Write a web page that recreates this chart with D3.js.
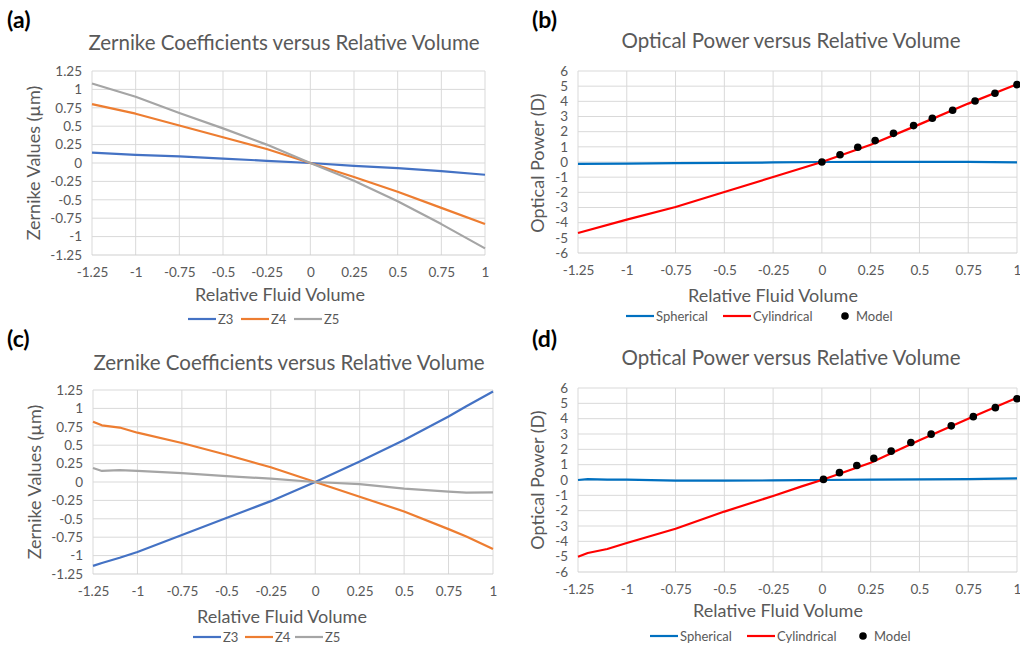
<!DOCTYPE html>
<html>
<head>
<meta charset="utf-8">
<script src="https://cdn.jsdelivr.net/npm/d3@7"></script>
<style>
  body { margin: 0; background: #fff; }
  text { font-family: Lato, "Open Sans", sans-serif; fill: #595959; }
</style>
</head>
<body>
<div id="chart"></div>
<script>
// ---- data ----
const xTicks = [-1.25, -1, -0.75, -0.5, -0.25, 0, 0.25, 0.5, 0.75, 1];
const zernikeTicks = [-1.25, -1, -0.75, -0.5, -0.25, 0, 0.25, 0.5, 0.75, 1, 1.25];
const powerTicks = [-6, -5, -4, -3, -2, -1, 0, 1, 2, 3, 4, 5, 6];

// (a)
const volumeA = [-1.25, -1, -0.75, -0.5, -0.25, 0, 0.25, 0.5, 0.75, 1];
const z3A = [0.14, 0.11, 0.09, 0.06, 0.03, 0, -0.04, -0.07, -0.11, -0.16];
const z4A = [0.80, 0.67, 0.51, 0.35, 0.19, 0, -0.19, -0.39, -0.61, -0.83];
const z5A = [1.08, 0.90, 0.68, 0.47, 0.25, 0, -0.24, -0.52, -0.83, -1.16];

// (b)
const volumeB = [-1.25, -1, -0.75, -0.5, -0.25, 0, 0.25, 0.5, 0.75, 1];
const sphericalB = [-0.13, -0.11, -0.08, -0.06, -0.03, 0, 0.01, 0.01, 0.01, -0.02];
const cylindricalB = [-4.68, -3.80, -2.97, -1.98, -0.99, 0, 1.14, 2.48, 3.85, 5.12];
const modelVolB = [0, 0.093, 0.184, 0.273, 0.367, 0.47, 0.566, 0.67, 0.785, 0.887, 1];
const modelPowerB = [0, 0.48, 0.97, 1.41, 1.89, 2.40, 2.88, 3.41, 4.02, 4.53, 5.10];

// (c)
const volumeC = [-1.25, -1.2, -1.1, -1, -0.75, -0.5, -0.25, 0, 0.25, 0.5, 0.75, 0.85, 1];
const z3C = [-1.14, -1.10, -1.03, -0.95, -0.72, -0.49, -0.26, 0, 0.28, 0.57, 0.89, 1.03, 1.23];
const z4C = [0.82, 0.77, 0.74, 0.67, 0.53, 0.37, 0.20, 0, -0.20, -0.40, -0.64, -0.74, -0.91];
const z5C = [0.19, 0.15, 0.16, 0.15, 0.12, 0.08, 0.045, 0, -0.03, -0.09, -0.13, -0.145, -0.14];

// (d)
const volumeD = [-1.25, -1.2, -1.1, -1, -0.75, -0.5, -0.25, -0.1, 0, 0.25, 0.5, 0.75, 1];
const sphericalD = [0, 0.06, 0.03, 0.02, -0.04, -0.04, -0.03, -0.01, 0, 0.02, 0.04, 0.06, 0.11];
const cylindricalD = [-5.0, -4.76, -4.5, -4.11, -3.18, -2.06, -1.04, -0.4, 0, 1.13, 2.6, 4.0, 5.37];
const modelVolD = [0.008, 0.09, 0.179, 0.266, 0.355, 0.456, 0.56, 0.663, 0.776, 0.889, 1];
const modelPowerD = [0.04, 0.48, 0.95, 1.41, 1.88, 2.45, 2.99, 3.53, 4.13, 4.72, 5.30];

const fmt = (v) => String(v);
const zip = (xs, ys) => xs.map((x, i) => ({x, y: ys[i]}));

const svg = d3.select("#chart").append("svg")
    .attr("width", 1020).attr("height", 646);

function drawPanel(p)
{
    const {box, yTicks, series, model, labels} = p;
    const g = svg.append("g");

    const x = d3.scaleLinear().domain([-1.25, 1]).range([box.x0, box.x1]);
    const y = d3.scaleLinear().domain(d3.extent(yTicks)).range([box.y1, box.y0]);

    // grid
    g.selectAll("line.v").data(xTicks).enter().append("line")
        .attr("x1", d => x(d)).attr("x2", d => x(d))
        .attr("y1", box.y0).attr("y2", box.y1)
        .style("stroke", "#d9d9d9").style("stroke-width", 1);
    g.selectAll("line.h").data(yTicks).enter().append("line")
        .attr("x1", box.x0).attr("x2", box.x1)
        .attr("y1", d => y(d)).attr("y2", d => y(d))
        .style("stroke", d => d === yTicks[0] ? "#cfcfcf" : "#d9d9d9").style("stroke-width", 1);

    // axes (labels only)
    const xAxis = g.append("g").attr("transform", `translate(0,${box.y1})`)
        .call(d3.axisBottom(x).tickValues(xTicks).tickFormat(fmt).tickSize(0).tickPadding(12));
    const yAxis = g.append("g").attr("transform", `translate(${box.x0},0)`)
        .call(d3.axisLeft(y).tickValues(yTicks).tickFormat(fmt).tickSize(0).tickPadding(10));
    [xAxis, yAxis].forEach(a => {
        a.select(".domain").remove();
        a.selectAll("text").style("font-size", "13.5px").style("fill", "#595959")
            .style("font-family", "Lato, 'Open Sans', sans-serif");
    });

    const line = d3.line().x(d => x(d.x)).y(d => y(d.y));
    series.forEach(s => {
        g.append("path").datum(zip(s.xs, s.ys))
            .attr("d", line).style("fill", "none")
            .style("stroke", s.color).style("stroke-width", 2.2)
            .style("stroke-linejoin", "round");
    });
    if (model) {
        g.selectAll("circle.m").data(zip(model.xs, model.ys)).enter().append("circle")
            .attr("cx", d => x(d.x)).attr("cy", d => y(d.y)).attr("r", 3.8)
            .style("fill", "#000");
    }

    // texts
    g.append("text").attr("x", labels.tag[0]).attr("y", labels.tag[1])
        .style("font-size", "23px").style("font-weight", "bold").style("fill", "#000")
        .text(labels.tagText);
    g.append("text").attr("x", labels.title[0]).attr("y", labels.title[1])
        .attr("text-anchor", "middle").style("font-size", "20.5px")
        .text(labels.titleText);
    g.append("text").attr("x", labels.xl[0]).attr("y", labels.xl[1])
        .attr("text-anchor", "middle").style("font-size", "18px")
        .text("Relative Fluid Volume");
    g.append("text")
        .attr("transform", `translate(${labels.yl[0]},${labels.yl[1]}) rotate(-90)`)
        .attr("text-anchor", "middle").style("font-size", "18px")
        .text(labels.ylText);

    // legend
    const lg = g.append("g");
    labels.legend.forEach(it => {
        if (it.dot) {
            lg.append("circle").attr("cx", it.x).attr("cy", labels.legendY).attr("r", 3.8).style("fill", "#000");
            lg.append("text").attr("x", it.x + 11).attr("y", labels.legendY + 4.5)
                .style("font-size", "13px").text(it.name);
        } else {
            lg.append("line").attr("x1", it.x).attr("x2", it.x + 28)
                .attr("y1", labels.legendY).attr("y2", labels.legendY)
                .style("stroke", it.color).style("stroke-width", 2.2);
            lg.append("text").attr("x", it.x + 30).attr("y", labels.legendY + 4.5)
                .style("font-size", "13px").text(it.name);
        }
    });
}

const BLUE = "#4472c4", ORANGE = "#ed7d31", GREY = "#a5a5a5";
const SPH = "#0070c0", CYL = "#ff0000";

drawPanel({
    box: {x0: 92, x1: 485, y0: 71, y1: 255},
    yTicks: zernikeTicks,
    series: [
        {xs: volumeA, ys: z3A, color: BLUE},
        {xs: volumeA, ys: z4A, color: ORANGE},
        {xs: volumeA, ys: z5A, color: GREY}
    ],
    labels: {
        tag: [7, 28], tagText: "(a)",
        title: [284, 50], titleText: "Zernike Coefficients versus Relative Volume",
        xl: [280, 301], yl: [40, 163], ylText: "Zernike Values (µm)",
        legendY: 319,
        legend: [{x: 188, name: "Z3", color: BLUE}, {x: 241, name: "Z4", color: ORANGE}, {x: 294, name: "Z5", color: GREY}]
    }
});

drawPanel({
    box: {x0: 578, x1: 1017, y0: 71, y1: 253},
    yTicks: powerTicks,
    series: [
        {xs: volumeB, ys: sphericalB, color: SPH},
        {xs: volumeB, ys: cylindricalB, color: CYL}
    ],
    model: {xs: modelVolB, ys: modelPowerB},
    labels: {
        tag: [532, 28], tagText: "(b)",
        title: [791, 48], titleText: "Optical Power versus Relative Volume",
        xl: [773, 302], yl: [544, 163], ylText: "Optical Power (D)",
        legendY: 316,
        legend: [{x: 626, name: "Spherical", color: SPH}, {x: 723, name: "Cylindrical", color: CYL}, {x: 845, name: "Model", dot: true}]
    }
});

drawPanel({
    box: {x0: 93, x1: 493, y0: 390, y1: 574},
    yTicks: zernikeTicks,
    series: [
        {xs: volumeC, ys: z3C, color: BLUE},
        {xs: volumeC, ys: z4C, color: ORANGE},
        {xs: volumeC, ys: z5C, color: GREY}
    ],
    labels: {
        tag: [7, 347], tagText: "(c)",
        title: [289, 370], titleText: "Zernike Coefficients versus Relative Volume",
        xl: [282, 623], yl: [41, 482], ylText: "Zernike Values (µm)",
        legendY: 637,
        legend: [{x: 193, name: "Z3", color: BLUE}, {x: 245, name: "Z4", color: ORANGE}, {x: 295, name: "Z5", color: GREY}]
    }
});

drawPanel({
    box: {x0: 578, x1: 1017, y0: 388, y1: 572},
    yTicks: powerTicks,
    series: [
        {xs: volumeD, ys: sphericalD, color: SPH},
        {xs: volumeD, ys: cylindricalD, color: CYL}
    ],
    model: {xs: modelVolD, ys: modelPowerD},
    labels: {
        tag: [532, 347], tagText: "(d)",
        title: [791, 365], titleText: "Optical Power versus Relative Volume",
        xl: [778, 617], yl: [544, 480], ylText: "Optical Power (D)",
        legendY: 636,
        legend: [{x: 650, name: "Spherical", color: SPH}, {x: 747, name: "Cylindrical", color: CYL}, {x: 863, name: "Model", dot: true}]
    }
});
</script>
</body>
</html>
